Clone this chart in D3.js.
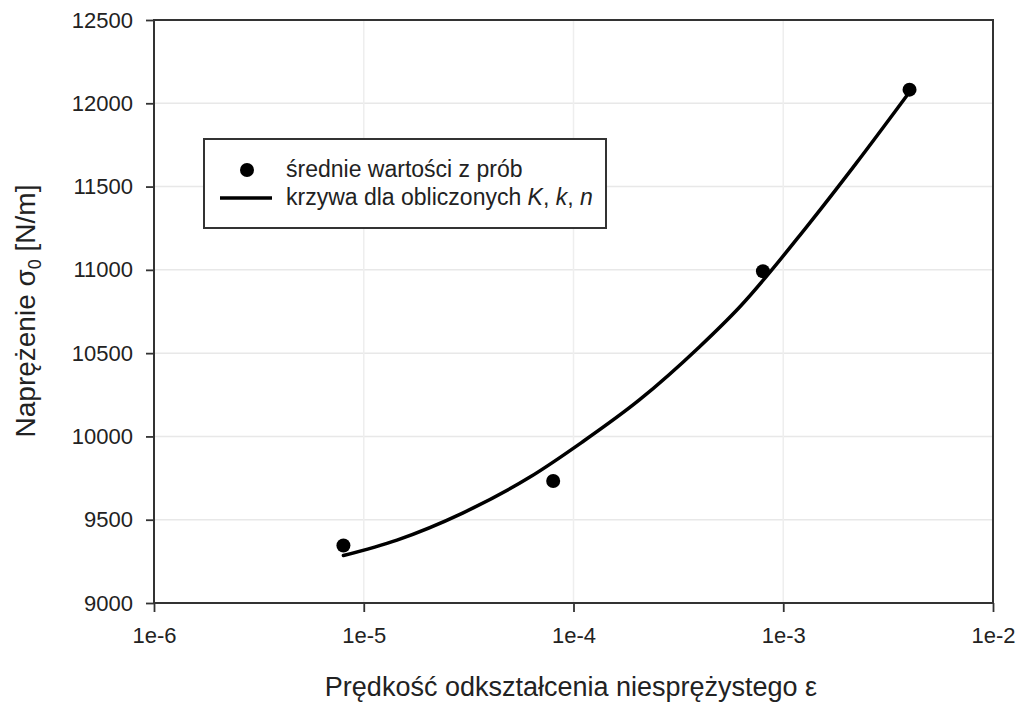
<!DOCTYPE html>
<html>
<head>
<meta charset="utf-8">
<script src="https://cdn.jsdelivr.net/npm/d3@7"></script>
<style>
  body { margin: 0; background: #fff; }
  text { font-family: Arial, "Liberation Sans", sans-serif; fill: #222; }
</style>
</head>
<body>
<svg id="chart" width="1019" height="707"></svg>
<script>
// measured averages
const pointEps = [8e-6, 8e-5, 8e-4, 4e-3];
const pointSigma = [9345, 9732, 10992, 12082];
// fitted curve
const curveEps = [8e-6, 1.44e-5, 2.96e-5, 6.2e-5, 1.1e-4, 2.06e-4, 3.98e-4, 6.2e-4, 1.29e-3, 2.23e-3, 4e-3];
const curveSigma = [9285, 9378, 9540, 9756, 9966, 10219, 10537, 10777, 11257, 11641, 12068];
const xTicks = [1e-6, 1e-5, 1e-4, 1e-3, 1e-2];
const xTickLabels = ["1e-6", "1e-5", "1e-4", "1e-3", "1e-2"];
const yTicks = [9000, 9500, 10000, 10500, 11000, 11500, 12000, 12500];

const svg = d3.select("svg#chart");
const plotLeft = 154, plotRight = 993, plotTop = 20, plotBottom = 603;

const x = d3.scaleLog().domain([1e-6, 1e-2]).range([plotLeft, plotRight]);
const y = d3.scaleLinear().domain([9000, 12500]).range([plotBottom, plotTop]);

// grid
svg.append("g").selectAll("line")
    .data(yTicks.slice(1, -1))
    .join("line")
    .attr("x1", plotLeft).attr("x2", plotRight)
    .attr("y1", d => y(d)).attr("y2", d => y(d))
    .attr("stroke", "#e8e8e8").attr("stroke-width", 1.5);
svg.append("g").selectAll("line")
    .data(xTicks.slice(1, -1))
    .join("line")
    .attr("x1", d => x(d)).attr("x2", d => x(d))
    .attr("y1", plotTop).attr("y2", plotBottom)
    .attr("stroke", "#eeeeee").attr("stroke-width", 1.5);

// axes
const yAxis = svg.append("g")
    .attr("transform", `translate(${plotLeft},0)`)
    .call(d3.axisLeft(y).tickValues(yTicks).tickSize(8).tickPadding(13).tickFormat(d3.format("d")));
const xAxis = svg.append("g")
    .attr("transform", `translate(0,${plotBottom})`)
    .call(d3.axisBottom(x).tickValues(xTicks).tickSize(9).tickPadding(15).tickFormat((d, i) => xTickLabels[i]));
[yAxis, xAxis].forEach(a => {
    a.select(".domain").remove();
    a.selectAll("line").attr("stroke", "#333").attr("stroke-width", 1.8);
    a.selectAll("text").attr("font-size", 22).attr("fill", "#222")
        .attr("font-family", "Arial, 'Liberation Sans', sans-serif");
});

// frame
svg.append("rect")
    .attr("x", plotLeft).attr("y", plotTop)
    .attr("width", plotRight - plotLeft).attr("height", plotBottom - plotTop)
    .attr("fill", "none").attr("stroke", "#333").attr("stroke-width", 2);

// curve
const line = d3.line()
    .x(d => x(d[0]))
    .y(d => y(d[1]))
    .curve(d3.curveMonotoneX);
svg.append("path")
    .datum(curveEps.map((e, i) => [e, curveSigma[i]]))
    .attr("d", line)
    .attr("fill", "none")
    .attr("stroke", "#000")
    .attr("stroke-width", 3.5)
    .attr("stroke-linecap", "round");

// points
svg.append("g").selectAll("circle")
    .data(pointEps.map((e, i) => [e, pointSigma[i]]))
    .join("circle")
    .attr("cx", d => x(d[0]))
    .attr("cy", d => y(d[1]))
    .attr("r", 7)
    .attr("fill", "#000");

// legend
const legend = svg.append("g");
legend.append("rect")
    .attr("x", 204).attr("y", 139).attr("width", 402).attr("height", 89)
    .attr("fill", "#fff").attr("stroke", "#333").attr("stroke-width", 2);
legend.append("circle").attr("cx", 247).attr("cy", 170).attr("r", 7).attr("fill", "#000");
legend.append("line")
    .attr("x1", 220).attr("x2", 272).attr("y1", 198).attr("y2", 198)
    .attr("stroke", "#000").attr("stroke-width", 3.5);
legend.append("text")
    .attr("x", 286).attr("y", 177).attr("font-size", 23)
    .text("średnie wartości z prób");
const l2 = legend.append("text")
    .attr("x", 286).attr("y", 205).attr("font-size", 23);
l2.append("tspan").text("krzywa dla obliczonych ");
l2.append("tspan").attr("font-style", "italic").text("K");
l2.append("tspan").text(", ");
l2.append("tspan").attr("font-style", "italic").text("k");
l2.append("tspan").text(", ");
l2.append("tspan").attr("font-style", "italic").text("n");

// axis titles
svg.append("text")
    .attr("x", 571).attr("y", 696)
    .attr("text-anchor", "middle")
    .attr("font-size", 27)
    .text("Prędkość odkształcenia niesprężystego ε");

const yt = svg.append("text")
    .attr("transform", "translate(35,311) rotate(-90)")
    .attr("text-anchor", "middle")
    .attr("font-size", 28);
yt.append("tspan").text("Naprężenie σ");
yt.append("tspan").attr("font-size", 18).attr("dy", 6).text("0");
yt.append("tspan").attr("dy", -6).text(" [N/m]");
</script>
</body>
</html>
